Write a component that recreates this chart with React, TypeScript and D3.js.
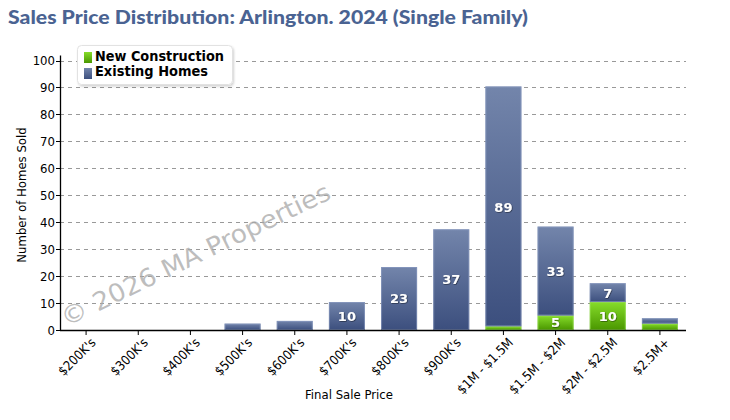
import React from "react";
import * as d3 from "d3";

const categories = ["$200K's", "$300K's", "$400K's", "$500K's", "$600K's", "$700K's", "$800K's", "$900K's", "$1M - $1.5M", "$1.5M - $2M", "$2M - $2.5M", "$2.5M+"];
const newConstruction = [0, 0, 0, 0, 0, 0, 0, 0, 1, 5, 10, 2];
const existingHomes = [0, 0, 0, 2, 3, 10, 23, 37, 89, 33, 7, 2];
const yTicks = [0, 10, 20, 30, 40, 50, 60, 70, 80, 90, 100];
const seriesNames = ["New Construction", "Existing Homes"];
const title = "Sales Price Distribution: Arlington. 2024 (Single Family)";
const watermark = "\u00A9 2026 MA Properties";

const W = 730, H = 420;
const left = 60, right = 686, top = 60.5, bottom = 330;

export default function App() {
  const x = d3.scaleBand<string>().domain(categories).range([left, right]).paddingInner(0.31).paddingOuter(0.155);
  const y = d3.scaleLinear().domain([0, 100]).range([bottom, top]);
  const bw = x.bandwidth();
  const stackData = categories.map((c, i) => ({ c, n: newConstruction[i], e: existingHomes[i] }));
  const stack = d3.stack<any>().keys(["n", "e"])(stackData);
  const ids = ["gNew", "gExist"];
  const axisFont = "'DejaVu Sans Condensed', 'DejaVu Sans', sans-serif";

  return (
    <svg width={W} height={H} style={{ position: "absolute", left: 0, top: 0 }}>
      <defs>
        <linearGradient id="gNew" x1="0" y1="0" x2="0" y2="1">
          <stop offset="0" stopColor="#86dc2a" />
          <stop offset="1" stopColor="#4a9700" />
        </linearGradient>
        <linearGradient id="gExist" x1="0" y1="0" x2="0" y2="1">
          <stop offset="0" stopColor="#7385ab" />
          <stop offset="1" stopColor="#3c4f7e" />
        </linearGradient>
        <filter id="lblShadow" x="-20%" y="-20%" width="140%" height="140%">
          <feDropShadow dx="0.6" dy="0.6" stdDeviation="0.6" floodColor="#000" floodOpacity="0.6" />
        </filter>
        <filter id="legShadow" x="-10%" y="-10%" width="125%" height="140%">
          <feDropShadow dx="1" dy="1.5" stdDeviation="1.2" floodColor="#000" floodOpacity="0.18" />
        </filter>
      </defs>
      <rect width={W} height={H} fill="#fff" />
      <text x={8} y={24} fontFamily="Lato, 'Open Sans', sans-serif" fontWeight="900" fontSize={18} fill="#4a6392" textLength={520} lengthAdjust="spacingAndGlyphs">{title}</text>

      {/* gridlines */}
      {yTicks.filter(t => t > 0).map(t => (
        <line key={t} x1={left} x2={right} y1={Math.round(y(t)) + 0.5} y2={Math.round(y(t)) + 0.5} stroke="#999" strokeDasharray="4,4" strokeWidth={1} />
      ))}

      {/* watermark */}
      <text transform={`translate(66,327) rotate(-25.8)`} fontFamily="'DejaVu Sans', sans-serif" fontSize={25} fill="#a8a8a8" fillOpacity={0.75} textLength={296} lengthAdjust="spacingAndGlyphs">{watermark}</text>

      {/* bars */}
      {stack.map((s, si) => s.map((d, i) => {
        const v = d[1] - d[0];
        if (v <= 0) return null;
        const x0 = x(categories[i])!;
        const y0 = y(d[1]) - 1;
        const h = y(d[0]) - y(d[1]) + (d[0] === 0 ? 1 : 0);
        return (
          <g key={`${si}-${i}`}>
            <rect x={x0} y={y0} width={bw} height={h} fill={`url(#${ids[si]})`} />
            <rect x={x0 + 0.5} y={y0 + 0.5} width={bw - 1} height={Math.max(0, h - 1)} fill="none" stroke={si === 0 ? "#9be55a" : "#8d9fc4"} strokeOpacity={0.6} strokeWidth={1} />
          </g>
        );
      }))}

      {/* labels */}
      {stack.map((s, si) => s.map((d, i) => {
        const v = d[1] - d[0];
        if (v < 5) return null;
        const cx = x(categories[i])! + bw / 2;
        const cy = (y(d[0]) + y(d[1])) / 2 - 0.5;
        return (
          <text key={`l${si}-${i}`} x={cx} y={cy} dy="0.36em" textAnchor="middle" fontFamily="'DejaVu Sans', sans-serif" fontWeight="bold" fontSize={13} fill="#fff" filter="url(#lblShadow)">{v}</text>
        );
      }))}

      {/* y axis */}
      <line x1={left + 0.5} x2={left + 0.5} y1={top - 5} y2={bottom} stroke="#000" strokeWidth={1.3} />
      {yTicks.map(t => (
        <g key={t}>
          <line x1={left - 4} x2={left} y1={Math.round(y(t)) + 0.5} y2={Math.round(y(t)) + 0.5} stroke="#000" />
          <text x={left - 5} y={y(t)} dy="0.36em" textAnchor="end" fontFamily={axisFont} fontSize={13} fill="#000">{t}</text>
        </g>
      ))}

      {/* x axis */}
      <line x1={left} x2={right} y1={bottom + 0.5} y2={bottom + 0.5} stroke="#000" strokeWidth={1.5} />
      {categories.map(c => {
        const cx = x(c)! + bw / 2;
        return (
          <g key={c}>
            <line x1={cx} x2={cx} y1={bottom} y2={bottom + 5} stroke="#000" />
            <text transform={`translate(${cx + 4},${bottom + 7}) rotate(-45)`} textAnchor="end" dy="0.7em" fontFamily={axisFont} fontSize={13} fill="#000">{c}</text>
          </g>
        );
      })}

      <text x={349} y={399} textAnchor="middle" fontFamily={axisFont} fontSize={13} fill="#000">Final Sale Price</text>
      <text transform={`translate(26,195) rotate(-90)`} textAnchor="middle" fontFamily={axisFont} fontSize={13} fill="#000">Number of Homes Sold</text>

      {/* legend */}
      <rect x={77.5} y={45.5} width={155} height={39} rx={4} fill="#fff" stroke="#e2e2e2" filter="url(#legShadow)" />
      {seriesNames.map((s, i) => (
        <g key={s}>
          <rect x={84} y={52 + i * 16} width={8} height={11} fill={`url(#${ids[i]})`} />
          <text x={95} y={61 + i * 15} fontFamily={axisFont} fontWeight="bold" fontSize={13.5} fill="#000" textLength={i === 0 ? 129 : 113} lengthAdjust="spacingAndGlyphs">{s}</text>
        </g>
      ))}
    </svg>
  );
}
